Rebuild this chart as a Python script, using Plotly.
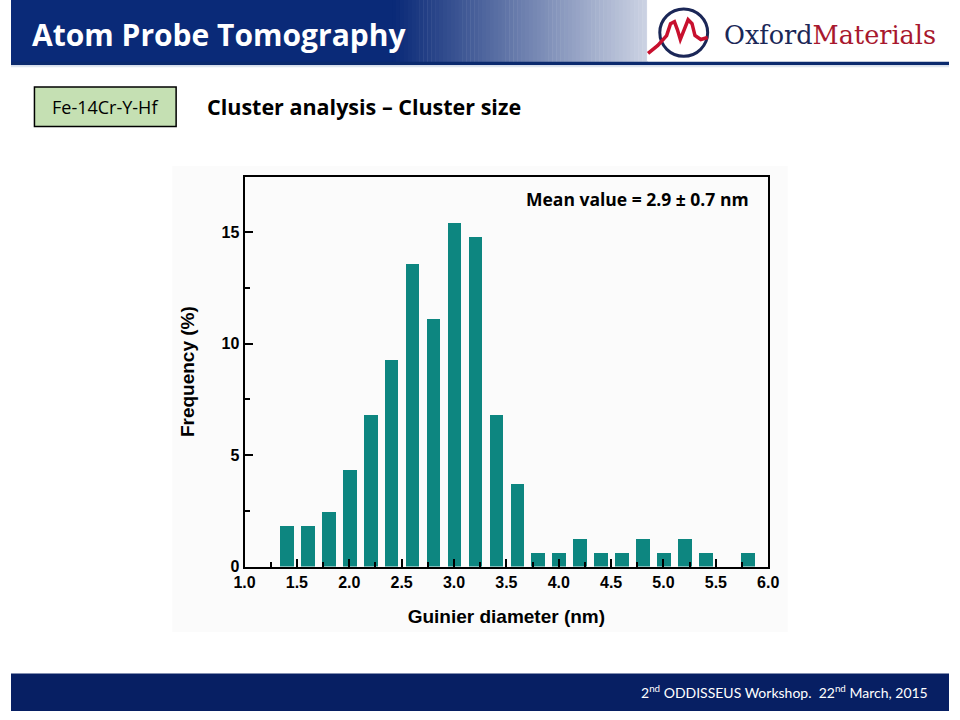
import plotly.graph_objects as go

# ---- data ----
diameters = [1.4, 1.6, 1.8, 2.0, 2.2, 2.4, 2.6, 2.8, 3.0, 3.2, 3.4, 3.6,
             3.8, 4.0, 4.2, 4.4, 4.6, 4.8, 5.0, 5.2, 5.4, 5.6, 5.8]
frequency = [1.85, 1.85, 2.47, 4.32, 6.79, 9.26, 13.58, 11.11, 15.43, 14.81, 6.79, 3.70,
             0.62, 0.62, 1.23, 0.62, 0.62, 1.23, 0.62, 1.23, 0.62, 0.0, 0.62]
x_ticks = [1.0, 1.5, 2.0, 2.5, 3.0, 3.5, 4.0, 4.5, 5.0, 5.5, 6.0]
x_tick_labels = ["1.0", "1.5", "2.0", "2.5", "3.0", "3.5", "4.0", "4.5", "5.0", "5.5", "6.0"]
y_ticks = [0, 5, 10, 15]
y_tick_labels = ["0", "5", "10", "15"]

W, H = 960, 720
BAR = "#0d8680"


def px(x):
    return x / W


def py(y):
    return 1 - y / H


fig = go.Figure()
fig.add_trace(go.Bar(x=diameters, y=frequency, width=0.13,
                     marker=dict(color=BAR, line=dict(width=0)), showlegend=False))

axis_font = dict(family="Liberation Sans, Arial", size=16, color="black", weight="bold")
title_font = dict(family="Liberation Sans, Arial", size=19, color="black", weight="bold")

fig.update_xaxes(domain=[px(239), px(775)], range=[1.0, 6.0],
                 tickvals=x_ticks, ticktext=x_tick_labels, tickfont=axis_font,
                 ticks="inside", ticklen=8, tickwidth=1.5, tickcolor="black",
                 minor=dict(dtick=0.25, tick0=1.0, ticks="inside", ticklen=5, tickwidth=1.5,
                            tickcolor="black", showgrid=False),
                 showline=True, linecolor="black", linewidth=2, mirror=True,
                 showgrid=False, zeroline=False,
                 title=dict(text="Guinier diameter (nm)", font=title_font, standoff=20))
fig.update_yaxes(domain=[py(573.7), py(179)], range=[0, 17.48],
                 tickvals=y_ticks, ticktext=y_tick_labels, tickfont=axis_font,
                 ticks="inside", ticklen=8, tickwidth=1.5, tickcolor="black",
                 minor=dict(dtick=2.5, tick0=0, ticks="inside", ticklen=5, tickwidth=1.5,
                            tickcolor="black", showgrid=False),
                 showline=True, linecolor="black", linewidth=2, mirror=True,
                 showgrid=False, zeroline=False,
                 title=dict(text="Frequency (%)", font=title_font, standoff=22))

shapes = []
# faint chart-image background
shapes.append(dict(type="rect", xref="paper", yref="paper", layer="below",
                   x0=px(165), x1=px(795), y0=py(640), y1=py(168),
                   fillcolor="#fbfbfb", line=dict(width=0)))

# header: dark part + gradient strips
shapes.append(dict(type="rect", xref="paper", yref="paper", layer="below",
                   x0=0, x1=px(392), y0=py(63), y1=1,
                   fillcolor="#0a2a78", line=dict(width=0)))
c0 = (10, 42, 120)
c1 = (205, 212, 228)
x_start, x_end, step = 390, 652, 4
n = (x_end - x_start) // step + 1
for i in range(n):
    t = i / (n - 1)
    c = tuple(int(c0[k] + (c1[k] - c0[k]) * t) for k in range(3))
    xa = x_start + i * step
    shapes.append(dict(type="rect", xref="paper", yref="paper", layer="below",
                       x0=px(xa), x1=px(min(xa + step + 0.5, x_end)), y0=py(63), y1=1,
                       fillcolor="rgb(%d,%d,%d)" % c, line=dict(width=0)))
# logo box
shapes.append(dict(type="rect", xref="paper", yref="paper", layer="below",
                   x0=px(651), x1=1, y0=py(62), y1=1,
                   fillcolor="white", line=dict(width=0)))
# header bottom line
shapes.append(dict(type="rect", xref="paper", yref="paper", layer="below",
                   x0=0, x1=1, y0=py(66), y1=py(62.5),
                   fillcolor="#0b2a6e", line=dict(width=0)))
shapes.append(dict(type="rect", xref="paper", yref="paper", layer="below",
                   x0=0, x1=1, y0=py(68), y1=py(66),
                   fillcolor="#dfe6f0", line=dict(width=0)))

# logo circle
shapes.append(dict(type="circle", xref="paper", yref="paper",
                   x0=px(664), x1=px(713), y0=py(57), y1=py(9),
                   line=dict(color="#1b2757", width=3)))
# logo red wave
pts = [(652, 54), (662, 46), (671, 36), (675, 24), (679, 22), (682, 30), (685, 40),
       (689, 30), (693, 20), (697, 24), (700, 36), (706, 40), (713, 38)]
path = "M " + " L ".join("%.5f,%.5f" % (px(a), py(b)) for a, b in pts)
shapes.append(dict(type="path", xref="paper", yref="paper", path=path,
                   line=dict(color="#c8102e", width=3.5)))

# sample label box
shapes.append(dict(type="rect", xref="paper", yref="paper",
                   x0=px(24), x1=px(169), y0=py(128), y1=py(88),
                   fillcolor="#c5e0b3", line=dict(color="black", width=1.5)))

# footer
shapes.append(dict(type="rect", xref="paper", yref="paper", layer="below",
                   x0=0, x1=1, y0=0, y1=py(682),
                   fillcolor="#071f63", line=dict(width=0)))

annotations = [
    dict(text="<b>Atom Probe Tomography</b>", x=px(19), y=py(35), xanchor="left", yanchor="middle",
         font=dict(family="Open Sans", size=30, color="white")),
    dict(text="Oxford<span style='color:#a8182e'>Materials</span>", x=px(728), y=py(35),
         xanchor="left", yanchor="middle",
         font=dict(family="DejaVu Serif", size=25.5, color="#1b2757")),
    dict(text="Fe-14Cr-Y-Hf", x=px(96.5), y=py(108), xanchor="center", yanchor="middle",
         font=dict(family="Open Sans", size=18, color="black")),
    dict(text="<b>Cluster analysis – Cluster size</b>", x=px(199), y=py(108),
         xanchor="left", yanchor="middle",
         font=dict(family="Open Sans", size=21.5, color="black")),
    dict(text="<b>Mean value = 2.9 ± 0.7 nm</b>", x=px(757), y=py(202),
         xanchor="right", yanchor="middle",
         font=dict(family="Open Sans", size=17.5, color="black")),
    dict(text="2<sup>nd</sup> ODDISSEUS Workshop.  22<sup>nd</sup> March, 2015", x=px(941), y=py(700),
         xanchor="right", yanchor="middle",
         font=dict(family="Lato, Open Sans", size=14, color="white")),
]
for a in annotations:
    a.update(xref="paper", yref="paper", showarrow=False)

fig.update_layout(width=W, height=H, margin=dict(l=0, r=0, t=0, b=0),
                  paper_bgcolor="white", plot_bgcolor="rgba(0,0,0,0)",
                  shapes=shapes, annotations=annotations, bargap=0)

fig.write_html("out.html", config={"displayModeBar": False},
               post_script="document.body.style.margin='0';"
                           "document.body.style.overflow='hidden';"
                           "document.documentElement.style.overflow='hidden';")
